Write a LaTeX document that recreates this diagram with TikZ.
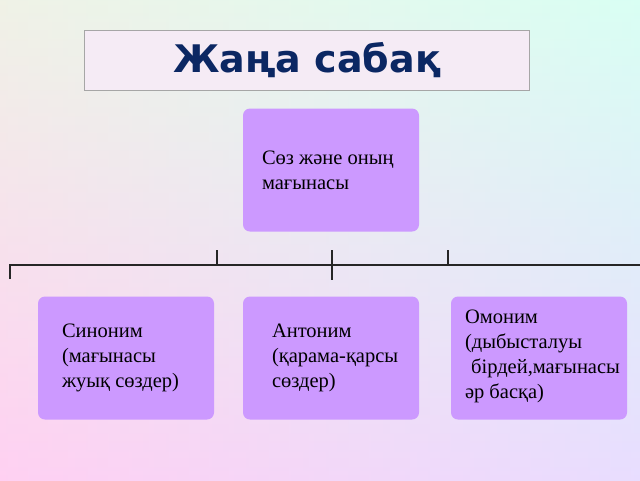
\documentclass[tikz,border=0pt]{standalone}
\usepackage{fontspec}
\setmainfont{Liberation Serif}
\newfontfamily\titlefont{DejaVu Sans}
\usetikzlibrary{positioning}
\definecolor{boxpurple}{HTML}{CC99FF}
\definecolor{titleblue}{HTML}{0B2763}
\tikzset{
  item/.style={draw=none,fill=boxpurple,rounded corners=7pt,minimum width=176pt,
    minimum height=123pt},
  txt/.style={align=left,inner sep=0pt,font=\fontsize{20.5}{25}\selectfont},
  bar/.style={line width=1.6pt,black!85}
}
\begin{document}
\begin{tikzpicture}[x=1pt,y=-1pt]
\useasboundingbox (0,0) rectangle (640,480);
\shade[left color=pink!50!white,right color=cyan!22!white] (0,0) rectangle (640,480);
\shade[top color=cyan!25!green!10!white,middle color=white,bottom color=magenta!22!white,opacity=0.6] (0,0) rectangle (640,480);
\node[draw=gray!70,fill=violet!8!white,minimum width=445pt,minimum height=60pt,
  font=\titlefont\bfseries\fontsize{38}{40}\selectfont,text=titleblue] (title) at (307,60) {Жаңа сабақ};
\node[item] (word) at (331,170) {};
\node[item] (syn) at (126,358) {};
\node[item] (ant) at (331,358) {};
\node[item] (hom) at (539,358) {};
\node[txt,anchor=west] at ([xshift=19pt]word.west) {Сөз және оның\\мағынасы};
\node[txt,anchor=west] at ([xshift=24pt]syn.west) {Синоним\\(мағынасы\\жуық сөздер)};
\node[txt,anchor=west] at ([xshift=29pt]ant.west) {Антоним\\(қарама-қарсы\\сөздер)};
\node[txt,anchor=west] at ([xshift=14pt,yshift=2pt]hom.west) {Омоним\\(дыбысталуы\\\hspace*{0.3em}бірдей,мағынасы\\әр басқа)};
\coordinate (l) at (10,265);
\coordinate (r) at (640,265);
\draw[bar] (10,279) -- (l) -- (r);
\draw[bar] (217,250) -- (217,265);
\draw[bar] (332,250) -- (332,280);
\draw[bar] (448,250) -- (448,265);
\end{tikzpicture}
\end{document}
